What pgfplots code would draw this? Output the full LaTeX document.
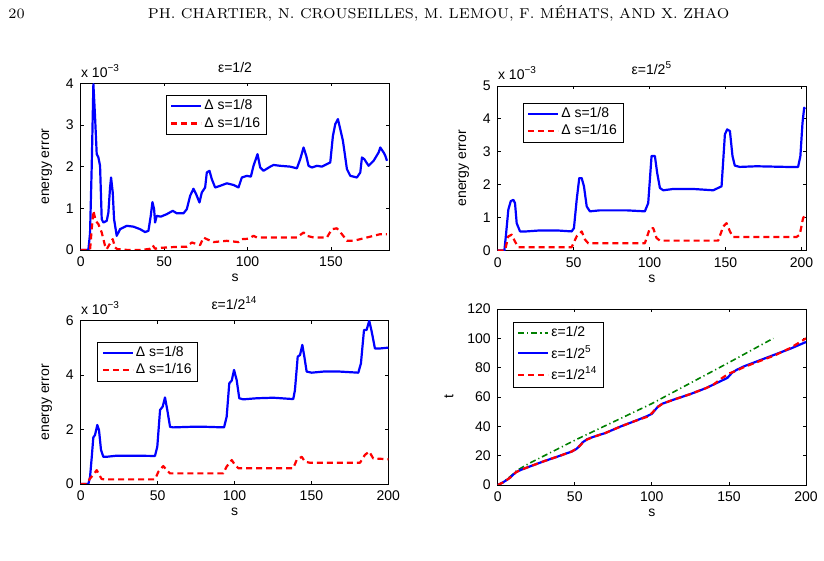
\documentclass[border=0pt]{standalone}
\usepackage{fontspec}
\usepackage{pgfplots}
\pgfplotsset{compat=1.18}
\newfontfamily\plotfont{Liberation Sans}
\definecolor{mblue}{RGB}{0,0,255}
\definecolor{mred}{RGB}{255,0,0}
\definecolor{mgreen}{RGB}{0,128,0}
\newcommand{\pf}{\plotfont\fontsize{7}{8}\selectfont}

\pgfplotsset{
  every axis title shift=0pt,
  mstyle/.style={
    scale only axis,
    font=\pf,
    tick label style={font=\pf},
    label style={font=\pf},
    /pgf/number format/assume math mode=true,
    tick align=inside,
    major tick length=1.6pt,
    axis line style={line width=0.4pt},
    every tick/.style={black, line width=0.4pt},
    xmin=0, ymin=0,
    scaled ticks=false,
    clip mode=individual,
    legend cell align=left,
    legend style={draw=black, line width=0.4pt, font=\pf,
      inner xsep=2pt, inner ysep=1.2pt,
      nodes={inner sep=1pt}, row sep=0pt},
    legend image code/.code={\draw[##1] (0pt,0pt) -- (15pt,0pt);},
    title style={font=\pf, at={(0.5,1)}, anchor=base, yshift=5.5pt, inner sep=0pt},
    xlabel style={yshift=1pt, inner sep=1pt},
    xlabel={s},
  },
  blueline/.style={mblue, line width=1.1pt, line join=round},
  reddash/.style={mred, line width=1.1pt, dash pattern=on 3pt off 2pt, line join=round},
  greendd/.style={mgreen, line width=0.8pt, dash pattern=on 3pt off 1.5pt on 0.6pt off 1.5pt},
}

\begin{document}
\begin{tikzpicture}
\useasboundingbox (0,0) rectangle (412pt,280.5pt);

% running head
\node[anchor=base west, inner sep=0pt, font=\fontsize{7.15}{9}\selectfont] at (4pt,271pt) {20};
\node[anchor=base, inner sep=0pt, font=\fontsize{7.15}{9}\selectfont] at (219.3pt,271pt)
  {PH. CHARTIER, N. CROUSEILLES, M. LEMOU, F. MÉHATS, AND X. ZHAO};

% ---------- epsilon = 1/2 ----------
\begin{axis}[mstyle,
  at={(40.35pt,155.5pt)}, anchor=south west,
  width=154.3pt, height=83.35pt,
  xmax=185, ymax=4,
  xtick={0,50,100,150}, ytick={0,1,2,3,4},
  ylabel={energy error},
  title={ε=1/2},
  legend style={at={(0.276,0.93)}, anchor=north west},
]
\addplot[blueline] coordinates {
(0,0) (4.6,0) (5.6,0.4) (6.6,2.0) (7.6,3.98) (8.6,3.2) (9.6,2.3) (10.6,2.22)
(11.6,2.02) (12.6,0.74) (13.6,0.66) (15.6,0.70) (16.6,0.9) (17.6,1.5) (18.2,1.74)
(19.2,1.38) (20,0.74) (21.6,0.34) (23.6,0.5) (27.6,0.58) (31.6,0.56) (35.6,0.5)
(38.6,0.43) (40.6,0.46) (42,0.82) (43,1.15) (44,0.98) (44.6,0.66) (45.6,0.82)
(48,0.80) (51.6,0.86) (55.2,0.94) (57.6,0.88) (61.6,0.88) (63.6,0.98) (65.6,1.3)
(67.6,1.47) (69.2,1.34) (71.2,1.14) (72.6,1.38) (74.6,1.5) (75.6,1.86) (77.2,1.9)
(78.6,1.7) (80.6,1.5) (83.6,1.54) (87.6,1.6) (91.6,1.56) (94.6,1.5) (96.6,1.74)
(99.6,1.78) (102,1.76) (103.6,2.02) (106,2.3) (107.6,1.98) (109.6,1.9) (113.6,2.0)
(115.6,2.04) (119.6,2.02) (125.6,2.0) (129.6,1.96) (131.6,2.18) (133.6,2.46)
(135.2,2.26) (136.6,2.02) (138.6,1.98) (141.6,2.02) (144.6,2.0) (149.6,2.1)
(151.2,2.74) (152.6,3.02) (154.2,3.14) (155.6,2.9) (157.2,2.62) (159.6,1.94)
(161.6,1.78) (165.6,1.74) (167.6,1.86) (168.6,2.22) (170,2.18) (172.6,2.02)
(175.6,2.14) (178.6,2.34) (179.6,2.46) (181.6,2.34) (182.6,2.26) (183.6,2.14)
};
\addlegendentry{Δ s=1/8}
\addplot[reddash] coordinates {
(0,0) (5.6,0) (6.6,0.5) (7.6,0.94) (9,0.7) (10.6,0.62) (12.6,0.42) (14.6,0.1)
(15.6,0.02) (17.6,0.16) (19.2,0.26) (20.6,0.06) (22,0.02) (24,0.02) (28,0)
(36,0) (40,0.02) (41.6,0.03) (43.2,0.11) (44.6,0.03) (47,0.05) (55.6,0.07)
(63.6,0.08) (66.6,0.18) (69.6,0.14) (71.6,0.12) (73.6,0.3) (75.6,0.26) (79.6,0.19)
(87.6,0.22) (94.6,0.19) (96.6,0.26) (100.6,0.27) (103.6,0.34) (105.6,0.3)
(115.6,0.3) (129.6,0.3) (133.6,0.42) (135.6,0.34) (139.6,0.3) (147.6,0.3)
(150.6,0.5) (153.6,0.52) (156.6,0.38) (159.6,0.22) (163.6,0.22) (167.6,0.26)
(171.6,0.3) (175.6,0.34) (179.6,0.38) (183.6,0.38)
};
\addlegendentry{Δ s=1/16}
\node[anchor=base west, inner sep=0pt, font=\pf] at (rel axis cs:0,1) [yshift=3pt] {x 10\textsuperscript{−3}};
\end{axis}

% ---------- epsilon = 1/2^5 ----------
\begin{axis}[mstyle,
  at={(248.85pt,155.25pt)}, anchor=south west,
  width=154.15pt, height=82.25pt,
  xmax=203, ymax=5,
  xtick={0,50,100,150,200}, ytick={0,1,2,3,4,5},
  ylabel={energy error},
  title={ε=1/2\textsuperscript{5}},
  legend style={at={(0.081,0.8985)}, anchor=north west},
]
\addplot[blueline] coordinates {
(0,0) (4.4,0) (5.5,0.5) (7,1.24) (8.6,1.5) (10.3,1.54) (11.4,1.44) (12.5,0.83)
(14.7,0.58) (19,0.58) (27.9,0.61) (38.8,0.61) (48.7,0.58) (50.2,0.68) (52,1.54)
(53.7,2.2) (55.3,2.2) (56.8,1.95) (58.6,1.34) (60.7,1.19) (67.3,1.22) (84.9,1.22)
(96.9,1.19) (99.1,1.44) (101.3,2.87) (103.5,2.87) (105,2.36) (106.8,1.9)
(109,1.83) (115.6,1.87) (128.7,1.87) (141.9,1.83) (147.4,1.95) (149.6,3.53)
(151.1,3.68) (152.9,3.63) (154.6,2.87) (156.1,2.58) (159.4,2.54) (170.4,2.56)
(190.1,2.54) (197.8,2.54) (199.3,2.87) (200.7,3.88) (201.8,4.34) (202.4,4.3)
};
\addlegendentry{Δ s=1/8}
\addplot[reddash] coordinates {
(0,0) (4.8,0) (7,0.43) (9.2,0.48) (11.4,0.27) (13.6,0.1) (19,0.1) (48.7,0.1)
(52,0.43) (55.3,0.58) (57.5,0.33) (59.6,0.22) (71.7,0.22) (96.9,0.22)
(100.2,0.68) (102.4,0.68) (104.6,0.38) (106.8,0.3) (145.2,0.3) (148.5,0.73)
(150.7,0.83) (152.9,0.58) (155,0.41) (196.7,0.41) (198.9,0.48) (201.1,0.99)
(202.4,1.05)
};
\addlegendentry{Δ s=1/16}
\node[anchor=base west, inner sep=0pt, font=\pf] at (rel axis cs:0,1) [yshift=3pt] {x 10\textsuperscript{−3}};
\end{axis}

% ---------- epsilon = 1/2^14 ----------
\begin{axis}[mstyle,
  at={(40.35pt,38.5pt)}, anchor=south west,
  width=153.8pt, height=81.65pt,
  xmax=200, ymax=6,
  xtick={0,50,100,150,200}, ytick={0,2,4,6},
  ylabel={energy error},
  title={ε=1/2\textsuperscript{14}},
  legend style={at={(0.054,0.871)}, anchor=north west},
]
\addplot[blueline] coordinates {
(0,0) (5,0) (6.1,0.27) (7.2,1.0) (8.2,1.71) (9.3,1.8) (10.8,2.17) (11.9,1.98)
(13.2,1.25) (14.7,1.0) (16.9,1.0) (23.4,1.04) (34.2,1.04) (48.3,1.03) (49.8,1.37)
(51.6,2.72) (53.3,2.84) (54.8,3.18) (56.3,2.72) (58.1,2.1) (60.2,2.08) (71.1,2.1)
(81.9,2.1) (93.2,2.08) (94.9,2.47) (96.6,3.7) (98.2,3.8) (99.7,4.19) (101.4,3.82)
(103.1,3.15) (105.7,3.11) (114.4,3.15) (125.2,3.17) (138.2,3.12) (139.3,3.45)
(141.1,4.68) (142.6,4.74) (144.1,5.11) (145.4,4.68) (146.9,4.13) (150.2,4.09)
(157.7,4.13) (168.6,4.13) (180.5,4.09) (182.2,4.43) (184.2,5.66) (185.9,5.66)
(187.6,6.0) (189.2,5.6) (191.3,4.98) (194.6,4.98) (200,5.01)
};
\addlegendentry{Δ s=1/8}
\addplot[reddash] coordinates {
(0,0) (4,0) (6,0.2) (8.2,0.33) (10.4,0.51) (12.1,0.33) (13.7,0.18) (16.9,0.17)
(48.3,0.17) (50.5,0.45) (53.7,0.66) (55.9,0.51) (58.1,0.39) (92.7,0.39)
(94.9,0.64) (98.2,0.88) (100.3,0.7) (102.5,0.58) (138.2,0.58) (140.4,0.88)
(143.7,1.0) (145.8,0.82) (149.1,0.78) (181.6,0.78) (184.8,1.07) (187.6,1.19)
(190.2,0.94) (200,0.91)
};
\addlegendentry{Δ s=1/16}
\node[anchor=base west, inner sep=0pt, font=\pf] at (rel axis cs:0,1) [yshift=3pt] {x 10\textsuperscript{−3}};
\end{axis}

% ---------- t versus s ----------
\begin{axis}[mstyle,
  at={(248.85pt,38pt)}, anchor=south west,
  width=154.15pt, height=88pt,
  xmax=200, ymax=120,
  xtick={0,50,100,150,200}, ytick={0,20,40,60,80,100,120},
  ylabel={t},
  legend style={at={(0.0487,0.928)}, anchor=north west, row sep=0.8pt},
]
\addplot[greendd] coordinates {
(0,0) (3,1.5) (6,4) (9,6.5) (12.3,9.8) (20,14.5) (50,30.5) (100,55.5)
(150,83.5) (178.8,100)
};
\addlegendentry{ε=1/2}
\addplot[blueline] coordinates {
(0,0) (3,1.5) (6,3.5) (8,5) (10,7) (12,8.8) (15,10.3) (20,12.3) (30,16.2)
(40,19.8) (48,22.8) (51,24.5) (53,26.5) (55,29) (58,31.2) (62,32.8) (70,35.5)
(80,40) (90,44) (97,47) (100,48.5) (102,51) (104,53.5) (107,55.5) (115,58.5)
(125,62) (135,66) (145,71) (149,73) (152,76.5) (155,78.5) (160,81) (170,85)
(180,89) (190,93) (200,97.5)
};
\addlegendentry{ε=1/2\textsuperscript{5}}
\addplot[reddash] coordinates {
(0,0) (3,1.5) (6,3.5) (8,5) (10,7) (12,8.8) (15,10.3) (20,12.3) (30,16.2)
(40,19.8) (48,22.8) (52,25.5) (55,28.5) (58,31) (62,32.8) (70,35.5) (80,40)
(90,44) (97,46.5) (100,49) (103,52.5) (107,55.5) (115,58.5) (125,62) (135,66)
(140,68.5) (145,72.5) (150,76) (155,78) (160,80.5) (170,84.5) (180,88.5)
(190,93.5) (200,100)
};
\addlegendentry{ε=1/2\textsuperscript{14}}
\end{axis}
\end{tikzpicture}
\end{document}
